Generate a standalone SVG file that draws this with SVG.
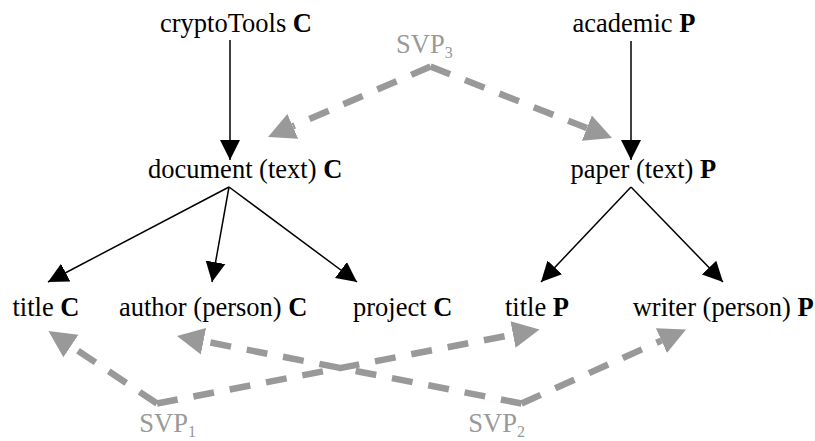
<svg xmlns="http://www.w3.org/2000/svg" width="815" height="441" viewBox="0 0 815 441">
  <style>
    text { font-family: 'Liberation Serif', 'Times New Roman', serif; }
    .lbl { font-size: 26.5px; fill: #000; }
    .lbl .k { font-weight: bold; }
    .svp { font-size: 26.5px; fill: #999; }
    .svp .sub { font-size: 16px; }
    .edge { fill: none; stroke: #000; stroke-width: 1.5; marker-end: url(#blackHead); }
    .map { fill: none; stroke: #999; stroke-width: 6.5; stroke-dasharray: 21 16; marker-end: url(#grayHead); }
  </style>
  <defs>
    <marker id="blackHead" markerUnits="userSpaceOnUse" markerWidth="22" markerHeight="22" viewBox="0 -11 22 22" refX="20" refY="0" orient="auto">
      <path d="M0,-10 L20,0 L0,10 z" fill="#000"/>
    </marker>
    <marker id="grayHead" markerUnits="userSpaceOnUse" markerWidth="30" markerHeight="30" viewBox="0 -15 30 30" refX="0" refY="0" orient="auto">
      <path d="M0,-13.5 L27,0 L0,13.5 z" fill="#999"/>
    </marker>
  </defs>

  <!-- hierarchy edges and value-pair mappings -->
  <g id="connectors">
    <path class="edge" d="M230,40 L230,160"/>
    <path class="edge" d="M631,41 L631,160"/>
    <path class="edge" d="M229,187 L48,282"/>
    <path class="edge" d="M229,187 L212,282"/>
    <path class="edge" d="M229,187 L357,282"/>
    <path class="edge" d="M631,187 L541,282"/>
    <path class="edge" d="M631,187 L723,282"/>

    <path class="map" d="M430.5,66.5 L292.8,126.3"/>
    <path class="map" d="M430.5,66.5 L586.9,128.1"/>
    <path class="map" d="M157,403.5 L70.9,346"/>
    <path class="map" d="M157,403.5 L513,334.6"/>
    <path class="map" d="M521.5,403.5 L203.5,341.2"/>
    <path class="map" d="M521.5,403.5 L661.4,340.6"/>
  </g>

  <g id="cryptoTools"><text class="lbl" x="160" y="32">cryptoTools <tspan class="k">C</tspan></text></g>
  <g id="academic"><text class="lbl" x="572.5" y="32">academic <tspan class="k">P</tspan></text></g>
  <g id="document"><text class="lbl" x="148" y="178">document (text) <tspan class="k">C</tspan></text></g>
  <g id="paper"><text class="lbl" x="570.5" y="178">paper (text) <tspan class="k">P</tspan></text></g>
  <g id="titleC"><text class="lbl" x="12.5" y="316">title <tspan class="k">C</tspan></text></g>
  <g id="authorC"><text class="lbl" x="119" y="316">author (person) <tspan class="k">C</tspan></text></g>
  <g id="projectC"><text class="lbl" x="353" y="316">project <tspan class="k">C</tspan></text></g>
  <g id="titleP"><text class="lbl" x="505" y="316">title <tspan class="k">P</tspan></text></g>
  <g id="writerP"><text class="lbl" x="632.7" y="316">writer (person) <tspan class="k">P</tspan></text></g>

  <g id="svp3"><text class="svp" x="396" y="53">SVP<tspan class="sub" dy="5">3</tspan></text></g>
  <g id="svp1"><text class="svp" x="139.3" y="432">SVP<tspan class="sub" dy="5">1</tspan></text></g>
  <g id="svp2"><text class="svp" x="468.3" y="432">SVP<tspan class="sub" dy="5">2</tspan></text></g>
</svg>
